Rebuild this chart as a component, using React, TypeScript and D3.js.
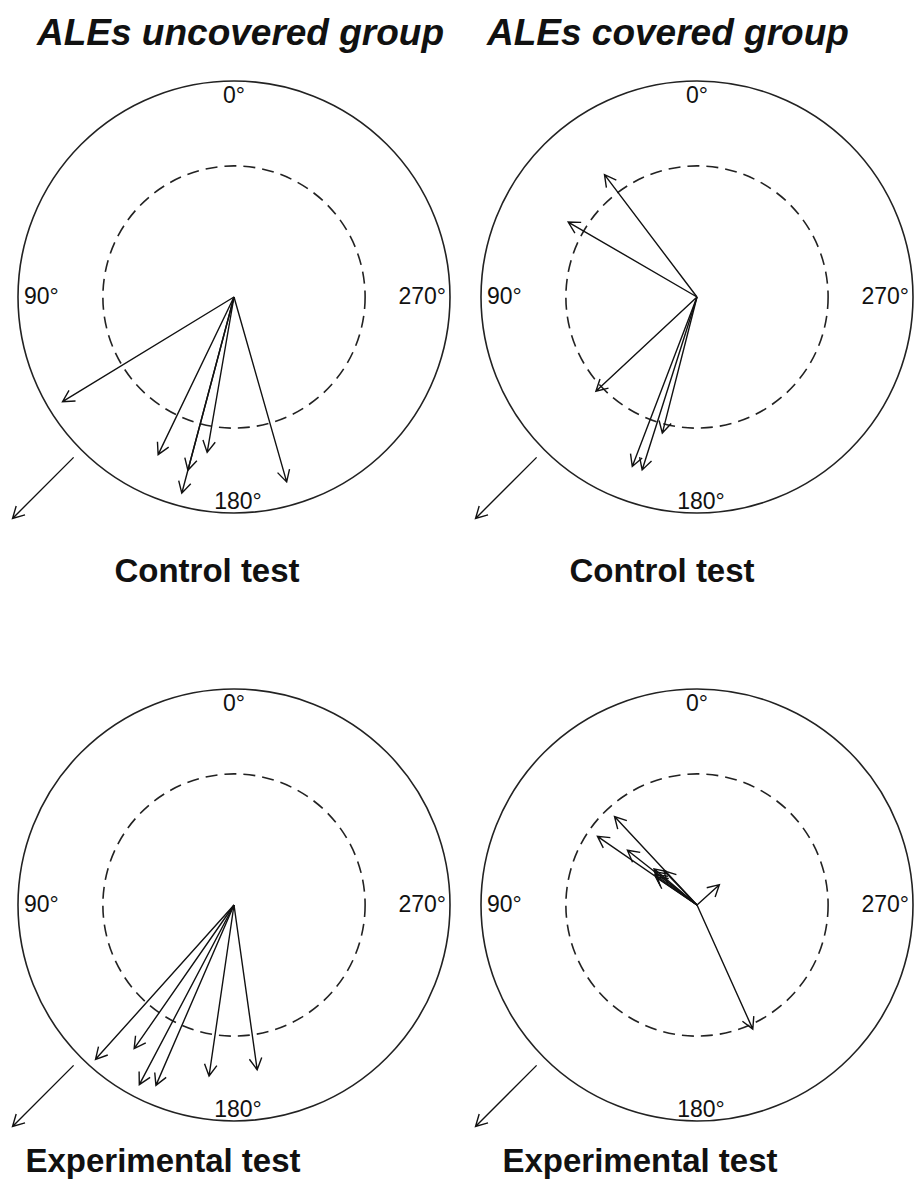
import * as d3 from 'd3';

// column headings and row labels
const groupTitles = ['ALEs uncovered group', 'ALEs covered group'];
const testLabels = ['Control test', 'Experimental test'];
const compassLabels = ['0°', '90°', '180°', '270°'];

// individual vectors: angle in degrees (0 = top, counter-clockwise), length as fraction of outer radius
const uncoveredControlAngles = [121.4, 154.3, 165.1, 165.1, 170.2, 195.9];
const uncoveredControlLengths = [0.93, 0.81, 0.83, 0.94, 0.73, 0.89];

const coveredControlAngles = [37.1, 59.8, 133, 165.7, 159.1, 162.4];
const coveredControlLengths = [0.71, 0.69, 0.64, 0.65, 0.84, 0.84];

const uncoveredExpAngles = [138.1, 145.2, 152.2, 156.6, 171.7, 188];
const uncoveredExpLengths = [0.96, 0.81, 0.94, 0.91, 0.8, 0.77];

const coveredExpAngles = [43, 55.4, 51.8, 50, 52, 54, 56, 44, 312.3, 204.2];
const coveredExpLengths = [0.56, 0.56, 0.41, 0.26, 0.25, 0.24, 0.23, 0.22, 0.14, 0.63];

// reference direction shown outside each circle
const refAngle = 135;
const refRange = [1.05, 1.45];
const criticalR = 0.607;

const panels = [
  { col: 0, row: 0, angles: uncoveredControlAngles, lengths: uncoveredControlLengths },
  { col: 1, row: 0, angles: coveredControlAngles, lengths: coveredControlLengths },
  { col: 0, row: 1, angles: uncoveredExpAngles, lengths: uncoveredExpLengths },
  { col: 1, row: 1, angles: coveredExpAngles, lengths: coveredExpLengths },
];

const W = 918;
const H = 1185;
const R = 216;
const centersX = [234, 697];
const centersY = [297, 905];
// label anchors per row/column
const titleX = [37, 487];
const labelX = [[207, 662], [163, 640]];
const labelY = [582, 1172];

const r = d3.scaleLinear().domain([0, 1]).range([0, R]);

function polar(cx: number, cy: number, deg: number, len: number): [number, number] {
  const a = (deg * Math.PI) / 180;
  return [cx - r(len) * Math.sin(a), cy - r(len) * Math.cos(a)];
}

function arrowPath(x0: number, y0: number, x1: number, y1: number) {
  const ang = Math.atan2(y1 - y0, x1 - x0);
  const hl = 13;
  const spread = 0.5;
  const p = d3.path();
  p.moveTo(x0, y0);
  p.lineTo(x1, y1);
  p.moveTo(x1 - hl * Math.cos(ang - spread), y1 - hl * Math.sin(ang - spread));
  p.lineTo(x1, y1);
  p.lineTo(x1 - hl * Math.cos(ang + spread), y1 - hl * Math.sin(ang + spread));
  return p.toString();
}

function Panel({ cx, cy, angles, lengths }: { cx: number; cy: number; angles: number[]; lengths: number[] }) {
  const [rx0, ry0] = polar(cx, cy, refAngle, refRange[0]);
  const [rx1, ry1] = polar(cx, cy, refAngle, refRange[1]);
  const lab = { fontFamily: 'Liberation Sans, Arial, sans-serif', fontSize: 23, fill: '#111' };
  return (
    <g>
      <circle cx={cx} cy={cy} r={r(1)} fill="none" stroke="#222" strokeWidth={1.6} />
      <circle cx={cx} cy={cy} r={r(criticalR)} fill="none" stroke="#222" strokeWidth={1.6} strokeDasharray="12 7" />
      <text x={cx} y={cy - r(1) + 22} textAnchor="middle" {...lab}>{compassLabels[0]}</text>
      <text x={cx - r(1) + 6} y={cy + 7} textAnchor="start" {...lab}>{compassLabels[1]}</text>
      <text x={cx + 4} y={cy + r(1) - 4} textAnchor="middle" {...lab}>{compassLabels[2]}</text>
      <text x={cx + r(1) - 4} y={cy + 7} textAnchor="end" {...lab}>{compassLabels[3]}</text>
      {angles.map((a, i) => {
        const [x1, y1] = polar(cx, cy, a, lengths[i]);
        return <path key={i} d={arrowPath(cx, cy, x1, y1)} fill="none" stroke="#111" strokeWidth={1.4} strokeLinejoin="miter" />;
      })}
      <path d={arrowPath(rx0, ry0, rx1, ry1)} fill="none" stroke="#111" strokeWidth={1.4} />
    </g>
  );
}

export default function App() {
  return (
    <svg width={W} height={H} style={{ display: 'block', position: 'absolute', left: 0, top: 0, background: '#fff' }}>
      <rect width={W} height={H} fill="#fff" />
      {groupTitles.map((t, i) => (
        <text key={t} x={titleX[i]} y={45} textAnchor="start" fontFamily="Liberation Sans, Arial, sans-serif"
          fontWeight="bold" fontStyle="italic" fontSize={37} fill="#111">{t}</text>
      ))}
      {panels.map((p, i) => (
        <Panel key={i} cx={centersX[p.col]} cy={centersY[p.row]} angles={p.angles} lengths={p.lengths} />
      ))}
      {testLabels.map((t, row) =>
        centersX.map((_, col) => (
          <text key={`${row}-${col}`} x={labelX[row][col]} y={labelY[row]} textAnchor="middle"
            fontFamily="Liberation Sans, Arial, sans-serif" fontWeight="bold" fontSize={33} fill="#111">{t}</text>
        ))
      )}
    </svg>
  );
}
